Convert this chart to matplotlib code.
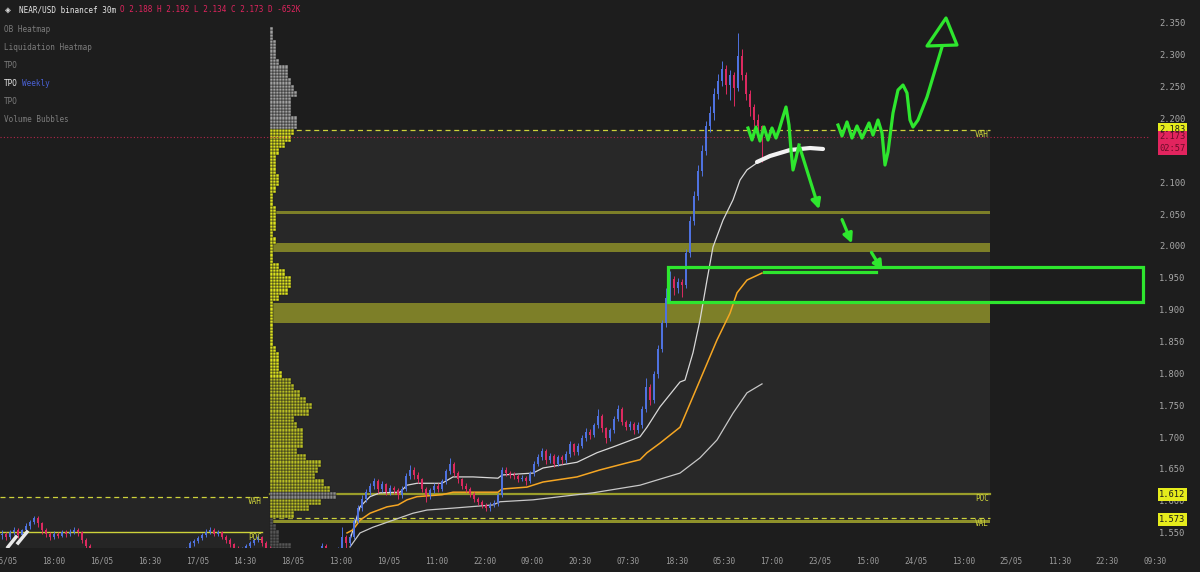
import matplotlib
matplotlib.use('Agg')
import matplotlib.pyplot as plt
import numpy as np
from matplotlib.patches import Rectangle, Polygon

# ---- candles (30m), oldest first; open = previous close ----
first_open = 1.548
closes = [1.550, 1.545, 1.552, 1.556, 1.548, 1.555, 1.562, 1.568, 1.574, 1.566, 1.556, 1.550, 1.545, 1.550, 1.547, 1.552,
          1.549, 1.553, 1.556, 1.552, 1.540, 1.530, 1.520,
          1.515, 1.505, 1.500, 1.495, 1.490, 1.488, 1.492, 1.490, 1.485, 1.480, 1.478, 1.482, 1.488, 1.490, 1.495, 1.500,
          1.498, 1.502, 1.505, 1.508, 1.510, 1.515, 1.520,
          1.525, 1.535, 1.538, 1.543, 1.548, 1.553, 1.556, 1.550, 1.552, 1.545, 1.540, 1.533, 1.527, 1.522, 1.526, 1.530,
          1.535, 1.540, 1.545, 1.536, 1.528,
          1.520, 1.515, 1.510, 1.500, 1.505, 1.510, 1.500, 1.495, 1.500, 1.505, 1.510, 1.515,
          1.522, 1.530, 1.525, 1.520, 1.518, 1.525, 1.545, 1.535, 1.545, 1.570, 1.590, 1.605, 1.615, 1.625, 1.632, 1.620,
          1.628, 1.615, 1.622, 1.618, 1.610, 1.620,
          1.640, 1.650, 1.642, 1.635, 1.620, 1.610, 1.618, 1.625, 1.620, 1.632, 1.648, 1.660, 1.645, 1.635, 1.625, 1.620,
          1.612, 1.605, 1.600, 1.595, 1.590, 1.595, 1.598, 1.610,
          1.650, 1.645, 1.642, 1.640, 1.636, 1.638, 1.632, 1.645, 1.660, 1.670, 1.680, 1.665, 1.672, 1.660, 1.670, 1.665,
          1.675, 1.690, 1.678, 1.688, 1.700, 1.710, 1.705, 1.720, 1.735, 1.715,
          1.700, 1.712, 1.730, 1.745, 1.725, 1.718, 1.722, 1.712, 1.720, 1.745, 1.780, 1.760, 1.800, 1.840, 1.880, 1.920,
          1.950, 1.935, 1.945, 1.940,
          1.990, 2.040, 2.080, 2.120, 2.150, 2.190, 2.210, 2.240, 2.260, 2.280, 2.255, 2.270, 2.250, 2.300, 2.270, 2.240,
          2.220, 2.200, 2.190, 2.173]
highs = [1.556, 1.553, 1.556, 1.560, 1.559, 1.558, 1.566, 1.571, 1.578, 1.577, 1.568, 1.559, 1.553, 1.554, 1.553, 1.555,
         1.556, 1.557, 1.560, 1.559, 1.554, 1.543, 1.533,
         1.523, 1.518, 1.508, 1.503, 1.498, 1.494, 1.496, 1.495, 1.493, 1.488, 1.484, 1.486, 1.491, 1.494, 1.498, 1.504,
         1.503, 1.506, 1.509, 1.511, 1.514, 1.518, 1.524,
         1.529, 1.538, 1.542, 1.547, 1.551, 1.557, 1.560, 1.559, 1.556, 1.554, 1.548, 1.543, 1.536, 1.530, 1.529, 1.533,
         1.538, 1.543, 1.548, 1.547, 1.539,
         1.530, 1.523, 1.518, 1.513, 1.508, 1.513, 1.512, 1.503, 1.503, 1.508, 1.513, 1.518,
         1.526, 1.535, 1.533, 1.528, 1.524, 1.529, 1.560, 1.548, 1.550, 1.574, 1.595, 1.610, 1.620, 1.630, 1.638, 1.635,
         1.632, 1.630, 1.626, 1.625, 1.621, 1.624,
         1.645, 1.658, 1.654, 1.646, 1.638, 1.623, 1.622, 1.630, 1.629, 1.636, 1.652, 1.668, 1.663, 1.648, 1.638, 1.629,
         1.623, 1.615, 1.608, 1.603, 1.598, 1.599, 1.602, 1.614,
         1.655, 1.654, 1.649, 1.646, 1.643, 1.642, 1.641, 1.649, 1.664, 1.675, 1.685, 1.683, 1.677, 1.675, 1.674, 1.673,
         1.680, 1.695, 1.693, 1.692, 1.705, 1.715, 1.714, 1.724, 1.745, 1.738,
         1.718, 1.716, 1.735, 1.752, 1.748, 1.729, 1.727, 1.725, 1.725, 1.750, 1.795, 1.785, 1.805, 1.846, 1.886, 1.935,
         1.962, 1.955, 1.952, 1.950,
         1.996, 2.048, 2.088, 2.128, 2.160, 2.198, 2.222, 2.250, 2.272, 2.292, 2.285, 2.278, 2.275, 2.336, 2.310, 2.275,
         2.246, 2.225, 2.208, 2.192]
lows = [1.542, 1.540, 1.541, 1.548, 1.543, 1.545, 1.552, 1.558, 1.565, 1.560, 1.550, 1.544, 1.540, 1.542, 1.543, 1.544,
        1.545, 1.546, 1.550, 1.546, 1.535, 1.525, 1.514,
        1.510, 1.500, 1.495, 1.490, 1.485, 1.483, 1.485, 1.486, 1.480, 1.476, 1.473, 1.475, 1.479, 1.484, 1.487, 1.492,
        1.494, 1.495, 1.499, 1.502, 1.504, 1.507, 1.512,
        1.517, 1.522, 1.531, 1.535, 1.540, 1.545, 1.549, 1.546, 1.546, 1.541, 1.536, 1.529, 1.523, 1.518, 1.519, 1.523,
        1.527, 1.532, 1.537, 1.531, 1.523,
        1.515, 1.510, 1.505, 1.495, 1.497, 1.502, 1.496, 1.490, 1.492, 1.497, 1.502, 1.507,
        1.512, 1.519, 1.520, 1.515, 1.512, 1.515, 1.522, 1.525, 1.530, 1.541, 1.566, 1.585, 1.600, 1.610, 1.620, 1.614,
        1.615, 1.610, 1.611, 1.612, 1.604, 1.606,
        1.617, 1.636, 1.636, 1.630, 1.615, 1.600, 1.605, 1.614, 1.615, 1.617, 1.628, 1.644, 1.640, 1.630, 1.620, 1.615,
        1.607, 1.600, 1.595, 1.590, 1.585, 1.586, 1.591, 1.594,
        1.607, 1.640, 1.637, 1.635, 1.631, 1.632, 1.627, 1.629, 1.641, 1.656, 1.665, 1.660, 1.661, 1.655, 1.656, 1.660,
        1.661, 1.671, 1.673, 1.674, 1.684, 1.695, 1.699, 1.701, 1.716, 1.710,
        1.693, 1.696, 1.708, 1.726, 1.720, 1.712, 1.713, 1.706, 1.708, 1.716, 1.741, 1.752, 1.755, 1.795, 1.835, 1.875,
        1.915, 1.925, 1.928, 1.922,
        1.936, 1.985, 2.034, 2.074, 2.112, 2.145, 2.180, 2.200, 2.232, 2.252, 2.240, 2.230, 2.222, 2.245, 2.262, 2.230,
        2.205, 2.190, 2.170, 2.134]

# ---- weekly TPO profile: counts per 0.01 row, from 1.53 upward ----
prof_start = 1.53
prof_counts = [7, 3, 3, 2, 1, 8, 13, 17, 22, 20,
               18, 15, 16, 17, 12, 9, 11, 11, 11, 9,
               8, 13, 14, 12, 10, 8, 7, 4, 3, 3,
               3, 2, 1, 1, 1, 1, 1, 1, 1, 3,
               6, 7, 7, 5, 3, 1, 1, 1, 2, 1,
               2, 2, 2, 2, 1, 1, 2, 3, 3, 2,
               2, 2, 3, 5, 7, 8, 9, 9, 7, 7,
               7, 9, 8, 7, 6, 6, 3, 2, 2, 2,
               1, 1]

# ---- session VWAP + bands ----
vwap_up_x = [350, 353, 360, 370, 380, 400, 407, 417, 442, 453, 473, 498, 502, 533, 543, 577, 597, 613, 640, 647, 660,
             680, 685, 693, 700, 707, 713, 723, 733, 740, 747, 757]
vwap_up = [1.540, 1.556, 1.592, 1.608, 1.614, 1.615, 1.626, 1.629, 1.629, 1.639, 1.639, 1.637, 1.642, 1.645, 1.653,
           1.662, 1.677, 1.686, 1.702, 1.717, 1.749, 1.788, 1.791, 1.834, 1.885, 1.948, 2.000, 2.042, 2.074, 2.105,
           2.121, 2.132]
vwap_mid_x = [347, 353, 360, 370, 387, 398, 407, 417, 442, 453, 473, 498, 502, 527, 543, 577, 600, 627, 640, 647, 660,
              680, 700, 717, 730, 737, 747, 762]
vwap_mid = [1.551, 1.556, 1.571, 1.582, 1.592, 1.595, 1.603, 1.608, 1.611, 1.615, 1.615, 1.615, 1.620, 1.623, 1.631,
            1.639, 1.650, 1.661, 1.666, 1.677, 1.692, 1.717, 1.791, 1.854, 1.896, 1.928, 1.948, 1.959]
vwap_dn_x = [350, 360, 373, 393, 413, 427, 453, 493, 500, 533, 593, 640, 680, 700, 717, 733, 747, 762]
vwap_dn = [1.529, 1.551, 1.560, 1.571, 1.582, 1.587, 1.590, 1.595, 1.600, 1.603, 1.614, 1.626, 1.645, 1.669, 1.697,
           1.739, 1.771, 1.785]

# ---- levels ----
vah, poc, val = 2.183, 1.612, 1.573
prev_vah, prev_poc = 1.607, 1.552
last_price = 2.173
zones = [(2.0518, 2.0570), (1.9916, 2.0067), (1.8811, 1.9115)]

time_labels = ['15/05', '18:00', '16/05', '16:30', '17/05', '14:30', '18/05', '13:00', '19/05', '11:00', '22:00',
               '09:00', '20:30', '07:30', '18:30', '05:30', '17:00', '23/05', '15:00', '24/05', '13:00', '25/05',
               '11:30', '22:30', '09:30']

# ---- hand drawn notes ----
white_stroke_x = [757, 770, 790, 810, 823]
white_stroke = [2.1334, 2.1428, 2.1522, 2.1553, 2.1538]
sq1_x = [748, 752, 756, 760, 764, 768, 772, 776, 779, 782, 786, 789, 791, 793, 796, 799]
sq1 = [2.1867, 2.1679, 2.1883, 2.1663, 2.1883, 2.1679, 2.1867, 2.1710, 2.1836, 2.1993, 2.2197, 2.1914, 2.1522,
       2.1208, 2.1396, 2.1601]
sq2_x = [838, 842, 847, 852, 857, 862, 869, 873, 878, 882, 885, 888, 893, 898, 903, 907, 910, 913, 918, 927, 942]
sq2 = [2.1914, 2.1742, 2.1962, 2.1710, 2.1899, 2.1710, 2.1946, 2.1757, 2.1993, 2.1789, 2.1286, 2.1491, 2.2103,
       2.2464, 2.2542, 2.2417, 2.1993, 2.1883, 2.1993, 2.2354, 2.3139]
arrows = [((799, 2.1601), (820, 2.0549)), ((841, 2.0470), (853, 2.0015)), ((870, 1.9952), (884, 1.9591))]

BG = '#1d1d1d'
VA_BG = '#282828'
UP = '#4f72e0'
DN = '#dc2a60'
GREEN = '#2ee62e'
YEL = '#cdd23a'
OLIVE = '#7d7f28'
MONO = ['DejaVu Sans Mono', 'DejaVu Sans']


def y2p(y):
    # pixel row -> price, used only to place axis boxes
    return 2.350 - (y - 24) / 637.0


fig = plt.figure(figsize=(12, 5.72), dpi=100, facecolor=BG)
ax = fig.add_axes([0, 24 / 572, 1, 548 / 572])
ax.set_facecolor(BG)
ax.set_xlim(0, 1200)
ax.set_ylim(y2p(548), y2p(0))
ax.axis('off')

# backgrounds
ax.add_patch(Rectangle((0, y2p(548)), 270, prev_vah - y2p(548), color='#252525', lw=0, zorder=0))
ax.add_patch(Rectangle((270, y2p(520)), 720, vah - y2p(520), color=VA_BG, lw=0, zorder=0))

# previous session levels
ax.plot([0, 270], [prev_vah, prev_vah], color=YEL, lw=0.9, ls=(0, (4, 3)), zorder=2)
ax.plot([0, 262], [prev_poc, prev_poc], color=YEL, lw=1.0, zorder=2)
ax.text(262, y2p(502), 'VAH', color=YEL, fontsize=5.5, family=MONO, ha='right', va='center', zorder=7)
ax.text(262, y2p(537), 'POC', color=YEL, fontsize=5.5, family=MONO, ha='right', va='center', zorder=7)

# zones and current levels
for lo, hi in zones:
    ax.add_patch(Rectangle((272, lo), 718, hi - lo, color=OLIVE, lw=0, zorder=1))
ax.plot([270, 990], [vah, vah], color=YEL, lw=0.9, ls=(0, (4, 3)), zorder=2)
ax.plot([270, 990], [poc, poc], color='#9a9d2a', lw=1.6, zorder=2)
ax.plot([270, 990], [y2p(517.5), y2p(517.5)], color=YEL, lw=0.9, ls=(0, (4, 3)), zorder=2)
ax.add_patch(Rectangle((270, y2p(523)), 720, y2p(519.5) - y2p(523), color='#8e912a', lw=0, zorder=2))
ax.text(989, y2p(135), 'VAH', color=YEL, fontsize=5.5, family=MONO, ha='right', va='center', zorder=7)
ax.text(989, y2p(499), 'POC', color=YEL, fontsize=5.5, family=MONO, ha='right', va='center', zorder=7)
ax.text(989, y2p(524), 'VAL', color=YEL, fontsize=5.5, family=MONO, ha='right', va='center', zorder=7)

# TPO profile
cx, cy, cc = [], [], []
for k, n in enumerate(prof_counts):
    p = prof_start + 0.01 * k
    if abs(p - poc) < 0.005:
        col = '#8c8c8c'
    elif p > vah + 0.002:
        col = '#a2a2a2'
    elif p < val:
        col = '#565656'
    elif p >= 1.80:
        col = '#dde31d'
    else:
        col = '#b9bf24'
    for j in range(n):
        for s in range(2):
            cx.append(270 + 3 * j)
            cy.append(p - 0.005 + 0.005 * s)
            cc.append(col)
ax.bar(cx, 0.005, width=3, bottom=cy, align='edge', color=cc, edgecolor='#1d1d1d', linewidth=0.35, zorder=3)

# VWAP bands
ax.plot(vwap_up_x, vwap_up, color='#d8d8d8', lw=0.9, zorder=4)
ax.plot(vwap_mid_x, vwap_mid, color='#f5a623', lw=1.1, zorder=4)
ax.plot(vwap_dn_x, vwap_dn, color='#c8c8c8', lw=0.9, zorder=4)

# candles
c = np.array(closes)
o = np.array([first_open] + closes[:-1])
xs = 2 + 4 * np.arange(len(c))
cols = np.where(c >= o, UP, DN)
ax.vlines(xs, lows, highs, colors=cols, lw=0.7, zorder=5)
body = np.maximum(np.abs(c - o), 0.0015)
ax.bar(xs, body, width=2.4, bottom=np.minimum(o, c), color=cols, lw=0, zorder=5)

# last price line
ax.plot([0, 1150], [last_price, last_price], color='#b32649', lw=0.8, ls=(0, (1, 2)), zorder=6)

# hand drawn notes
ax.plot(white_stroke_x, white_stroke, color='#f2f2f2', lw=3, solid_capstyle='round', zorder=8)
ax.plot([8, 16], [y2p(547), y2p(537)], color='#e8e8e8', lw=2.5, zorder=8)
ax.plot([18, 27], [y2p(543), y2p(532)], color='#e8e8e8', lw=2.5, zorder=8)
ax.plot(sq1_x, sq1, color=GREEN, lw=2.3, solid_joinstyle='round', zorder=8)
ax.plot(sq2_x, sq2, color=GREEN, lw=2.3, solid_joinstyle='round', zorder=8)
for start, end in arrows:
    ax.annotate('', xy=end, xytext=start, zorder=8,
                arrowprops=dict(arrowstyle='-|>', color=GREEN, lw=2.3, mutation_scale=14))
ax.add_patch(Polygon([(946, y2p(18)), (927, y2p(46)), (957, y2p(45))], closed=True, fill=False,
                     edgecolor=GREEN, lw=2.3, joinstyle='round', zorder=8))
ax.plot([764, 876], [y2p(272), y2p(272)], color=GREEN, lw=2.3, zorder=8)
ax.add_patch(Rectangle((668, y2p(302)), 475, y2p(267) - y2p(302), fill=False, edgecolor=GREEN, lw=2.3, zorder=8))

# price axis
for p in np.arange(1.55, 2.3501, 0.05):
    ax.text(1172, p, f'{p:.3f}', color='#a8a8a8', fontsize=6.3, family=MONO, ha='center', va='center', zorder=7)


def price_box(y0, y1, face, lines, tcol):
    ax.add_patch(Rectangle((1158, y2p(y1)), 29, y2p(y0) - y2p(y1), color=face, lw=0, zorder=9))
    step = (y1 - y0) / len(lines)
    for i, t in enumerate(lines):
        ax.text(1172.5, y2p(y0 + step * (i + 0.5)), t, color=tcol, fontsize=6.3, family=MONO,
                ha='center', va='center', zorder=10)


price_box(123, 137, '#e6ec1c', ['2.183'], '#1a1a1a')
price_box(131, 155, '#e2245e', ['2.173', '02:57'], '#6a0c28')
price_box(488, 501, '#e6ec1c', ['1.612'], '#1a1a1a')
price_box(513, 526, '#e6ec1c', ['1.573'], '#1a1a1a')

# time axis
for k, lab in enumerate(time_labels):
    ax.text(5.5 + 47.9 * k, -13 / 548, lab, transform=ax.get_xaxis_transform(), color='#9c9c9c',
            fontsize=5.6, family=MONO, ha='center', va='center', clip_on=False)

# header and indicator list
fig.text(8 / 1200, 1 - 10 / 572, '◈', color='#e0e0e0', fontsize=7, family=MONO, ha='center', va='center')
fig.text(19 / 1200, 1 - 10 / 572, 'NEAR/USD binancef 30m', color='#e6e6e6', fontsize=5.5, family=MONO, va='center')
fig.text(120 / 1200, 1 - 10 / 572, 'O 2.188 H 2.192 L 2.134 C 2.173 D -652K', color='#e0245e', fontsize=5.5,
         family=MONO, va='center')
for txt, yy in [('OB Heatmap', 29), ('Liquidation Heatmap', 47), ('TPO', 65), ('TPO', 101), ('Volume Bubbles', 119)]:
    fig.text(4 / 1200, 1 - yy / 572, txt, color='#7c7c7c', fontsize=5.5, family=MONO, va='center')
fig.text(4 / 1200, 1 - 83 / 572, 'TPO', color='#e6e6e6', fontsize=5.5, family=MONO, va='center')
fig.text(22.5 / 1200, 1 - 83 / 572, 'Weekly', color='#4a62d8', fontsize=5.5, family=MONO, va='center')

fig.savefig('out.png', dpi=100, facecolor=BG)
